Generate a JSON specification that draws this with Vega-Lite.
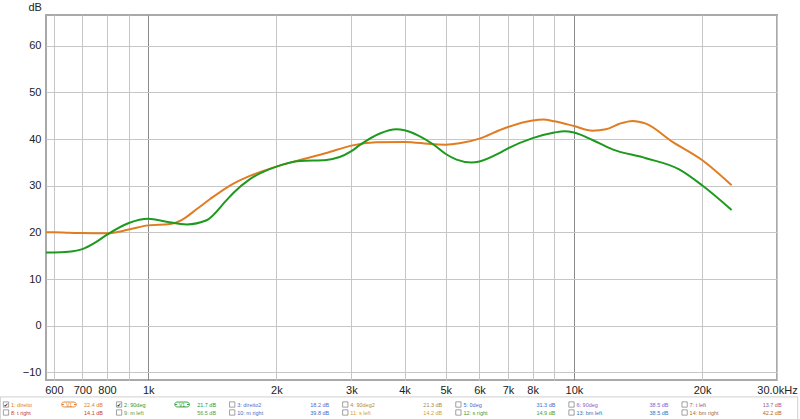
{
  "$schema": "https://vega.github.io/schema/vega-lite/v6.json",
  "width": 731,
  "height": 365,
  "autosize": {"type": "none"},
  "padding": {"left": 46, "top": 15, "right": 23, "bottom": 39},
  "background": "white",
  "config": {
    "view": {"stroke": "#a9a9a9", "strokeWidth": 2},
    "font": "Liberation Sans"
  },
  "datasets": {
    "curves": [
      {"series": "1: direito", "freq": 575, "db": 20.0},
      {"series": "1: direito", "freq": 600, "db": 20.0},
      {"series": "1: direito", "freq": 650, "db": 19.9},
      {"series": "1: direito", "freq": 700, "db": 19.85},
      {"series": "1: direito", "freq": 800, "db": 19.8},
      {"series": "1: direito", "freq": 900, "db": 20.6},
      {"series": "1: direito", "freq": 1000, "db": 21.5},
      {"series": "1: direito", "freq": 1125, "db": 21.8},
      {"series": "1: direito", "freq": 1200, "db": 22.7},
      {"series": "1: direito", "freq": 1300, "db": 25.0},
      {"series": "1: direito", "freq": 1400, "db": 27.2},
      {"series": "1: direito", "freq": 1581, "db": 30.4},
      {"series": "1: direito", "freq": 1733, "db": 32.1},
      {"series": "1: direito", "freq": 2000, "db": 34.1},
      {"series": "1: direito", "freq": 2270, "db": 35.5},
      {"series": "1: direito", "freq": 2620, "db": 37.0},
      {"series": "1: direito", "freq": 3000, "db": 38.6},
      {"series": "1: direito", "freq": 3428, "db": 39.3},
      {"series": "1: direito", "freq": 4000, "db": 39.4},
      {"series": "1: direito", "freq": 4667, "db": 38.9},
      {"series": "1: direito", "freq": 5000, "db": 38.8},
      {"series": "1: direito", "freq": 5386, "db": 39.1},
      {"series": "1: direito", "freq": 6000, "db": 40.1},
      {"series": "1: direito", "freq": 6680, "db": 41.9},
      {"series": "1: direito", "freq": 7000, "db": 42.6},
      {"series": "1: direito", "freq": 8000, "db": 44.0},
      {"series": "1: direito", "freq": 8474, "db": 44.2},
      {"series": "1: direito", "freq": 9000, "db": 43.8},
      {"series": "1: direito", "freq": 10000, "db": 42.8},
      {"series": "1: direito", "freq": 11060, "db": 41.8},
      {"series": "1: direito", "freq": 11890, "db": 42.1},
      {"series": "1: direito", "freq": 12800, "db": 43.3},
      {"series": "1: direito", "freq": 13730, "db": 43.9},
      {"series": "1: direito", "freq": 14760, "db": 43.3},
      {"series": "1: direito", "freq": 17050, "db": 39.4},
      {"series": "1: direito", "freq": 20000, "db": 35.5},
      {"series": "1: direito", "freq": 23470, "db": 30.1},
      {"series": "2: 90deg", "freq": 575, "db": 15.7},
      {"series": "2: 90deg", "freq": 600, "db": 15.7},
      {"series": "2: 90deg", "freq": 650, "db": 15.85},
      {"series": "2: 90deg", "freq": 700, "db": 16.4},
      {"series": "2: 90deg", "freq": 750, "db": 17.8},
      {"series": "2: 90deg", "freq": 800, "db": 19.5},
      {"series": "2: 90deg", "freq": 900, "db": 22.0},
      {"series": "2: 90deg", "freq": 1000, "db": 22.9},
      {"series": "2: 90deg", "freq": 1104, "db": 22.3},
      {"series": "2: 90deg", "freq": 1230, "db": 21.7},
      {"series": "2: 90deg", "freq": 1371, "db": 22.6},
      {"series": "2: 90deg", "freq": 1527, "db": 26.9},
      {"series": "2: 90deg", "freq": 1582, "db": 28.4},
      {"series": "2: 90deg", "freq": 1733, "db": 31.4},
      {"series": "2: 90deg", "freq": 2000, "db": 34.1},
      {"series": "2: 90deg", "freq": 2270, "db": 35.3},
      {"series": "2: 90deg", "freq": 2620, "db": 35.5},
      {"series": "2: 90deg", "freq": 3000, "db": 37.4},
      {"series": "2: 90deg", "freq": 3138, "db": 38.7},
      {"series": "2: 90deg", "freq": 3500, "db": 41.2},
      {"series": "2: 90deg", "freq": 3826, "db": 42.1},
      {"series": "2: 90deg", "freq": 4000, "db": 41.9},
      {"series": "2: 90deg", "freq": 4300, "db": 40.8},
      {"series": "2: 90deg", "freq": 4667, "db": 38.9},
      {"series": "2: 90deg", "freq": 5000, "db": 36.8},
      {"series": "2: 90deg", "freq": 5300, "db": 35.6},
      {"series": "2: 90deg", "freq": 5738, "db": 35.0},
      {"series": "2: 90deg", "freq": 6000, "db": 35.2},
      {"series": "2: 90deg", "freq": 6680, "db": 37.0},
      {"series": "2: 90deg", "freq": 7000, "db": 38.0},
      {"series": "2: 90deg", "freq": 8000, "db": 40.2},
      {"series": "2: 90deg", "freq": 9000, "db": 41.4},
      {"series": "2: 90deg", "freq": 9490, "db": 41.7},
      {"series": "2: 90deg", "freq": 10000, "db": 41.4},
      {"series": "2: 90deg", "freq": 11060, "db": 39.8},
      {"series": "2: 90deg", "freq": 12320, "db": 37.8},
      {"series": "2: 90deg", "freq": 14760, "db": 35.9},
      {"series": "2: 90deg", "freq": 17670, "db": 33.5},
      {"series": "2: 90deg", "freq": 20000, "db": 30.1},
      {"series": "2: 90deg", "freq": 23470, "db": 24.8}
    ],
    "legend": [
      {"item": "1: direito", "val": "22.4 dB", "row": 0, "col": 0, "checked": true},
      {"item": "2: 90deg", "val": "21.7 dB", "row": 0, "col": 1, "checked": true},
      {"item": "3: direito2", "val": "18.2 dB", "row": 0, "col": 2, "checked": false},
      {"item": "4: 90deg2", "val": "21.3 dB", "row": 0, "col": 3, "checked": false},
      {"item": "5: 0deg", "val": "31.3 dB", "row": 0, "col": 4, "checked": false},
      {"item": "6: 90deg", "val": "38.5 dB", "row": 0, "col": 5, "checked": false},
      {"item": "7: t left", "val": "13.7 dB", "row": 0, "col": 6, "checked": false},
      {"item": "8: t right", "val": "14.1 dB", "row": 1, "col": 0, "checked": false},
      {"item": "9: m left", "val": "56.5 dB", "row": 1, "col": 1, "checked": false},
      {"item": "10: m right", "val": "39.8 dB", "row": 1, "col": 2, "checked": false},
      {"item": "11: s left", "val": "14.2 dB", "row": 1, "col": 3, "checked": false},
      {"item": "12: s right", "val": "14.9 dB", "row": 1, "col": 4, "checked": false},
      {"item": "13: bm left", "val": "38.5 dB", "row": 1, "col": 5, "checked": false},
      {"item": "14: bm right", "val": "42.2 dB", "row": 1, "col": 6, "checked": false}
    ]
  },
  "layer": [
    {
      "data": {"name": "curves"},
      "mark": {"type": "line", "interpolate": "monotone", "strokeWidth": 2, "clip": true},
      "encoding": {
        "x": {
          "field": "freq",
          "type": "quantitative",
          "scale": {"type": "log", "domain": [575, 30000], "nice": false},
          "axis": {
            "values": [600, 700, 800, 900, 1000, 2000, 3000, 4000, 5000, 6000, 7000, 8000, 9000, 10000, 20000, 30000],
            "labelExpr": "datum.value == 900 || datum.value == 9000 ? '' : datum.value >= 30000 ? '30.0kHz' : datum.value >= 1000 ? (datum.value / 1000) + 'k' : '' + datum.value",
            "title": null,
            "domain": false,
            "ticks": false,
            "tickSize": 0,
            "labelPadding": 4,
            "labelFontSize": 11,
            "labelColor": "#222",
            "labelFont": "Liberation Sans",
            "labelFlush": false,
            "labelOverlap": false,
            "labelBound": false,
            "grid": true,
            "gridColor": {"condition": {"test": "datum.value == 1000 || datum.value == 10000", "value": "#8a8a8a"}, "value": "#c6c6c6"},
            "gridWidth": 1
          }
        },
        "y": {
          "field": "db",
          "type": "quantitative",
          "scale": {"domain": [-11.65, 66.6], "nice": false, "zero": false},
          "axis": {
            "values": [-10, 0, 10, 20, 30, 40, 50, 60],
            "title": "dB",
            "titleAngle": 0,
            "titleAlign": "left",
            "titleBaseline": "alphabetic",
            "titleX": -18,
            "titleY": -5,
            "titleFontSize": 11,
            "titleFontWeight": "normal",
            "titleColor": "#222",
            "titleFont": "Liberation Sans",
            "domain": false,
            "ticks": false,
            "tickSize": 0,
            "labelPadding": 5,
            "labelFontSize": 11,
            "labelColor": "#222",
            "labelFont": "Liberation Sans",
            "grid": true,
            "gridColor": "#c6c6c6",
            "gridWidth": 1
          }
        },
        "color": {
          "field": "series",
          "type": "nominal",
          "scale": {"domain": ["1: direito", "2: 90deg"], "range": ["#e07d22", "#1d9a1d"]},
          "legend": null
        }
      }
    },
    {
      "data": {"name": "legend"},
      "layer": [
        {
          "data": {"values": [{}]},
          "mark": {"type": "rect", "fillOpacity": 0, "stroke": "#cfcfcf", "strokeWidth": 1},
          "encoding": {
            "x": {"datum": -0.05, "type": "quantitative", "scale": {"domain": [0, 6], "range": [-40, 638.6], "nice": false, "zero": false}, "axis": null},
            "x2": {"datum": 7.0},
            "y": {"datum": -0.95, "type": "quantitative", "scale": {"domain": [0, 1], "range": [389.5, 397.5], "nice": false, "zero": false}, "axis": null},
            "y2": {"datum": 3}
          }
        },
        {
          "mark": {"type": "point", "shape": "square", "size": 28, "filled": true, "fill": "white", "stroke": "#8a8a8a", "strokeWidth": 0.8, "opacity": 1},
          "encoding": {
            "x": {"field": "col", "type": "quantitative", "scale": {"domain": [0, 6], "range": [-40, 638.6], "nice": false, "zero": false}, "axis": null},
            "y": {"field": "row", "type": "quantitative", "scale": {"domain": [0, 1], "range": [389.5, 397.5], "nice": false, "zero": false}, "axis": null}
          }
        },
        {
          "transform": [{"filter": "datum.checked"}],
          "mark": {"type": "text", "text": "✔", "font": "DejaVu Sans", "fontSize": 5.5, "color": "#333", "align": "center", "baseline": "middle"},
          "encoding": {
            "x": {"field": "col", "type": "quantitative", "scale": {"domain": [0, 6], "range": [-40, 638.6], "nice": false, "zero": false}, "axis": null},
            "y": {"field": "row", "type": "quantitative", "scale": {"domain": [0, 1], "range": [389.5, 397.5], "nice": false, "zero": false}, "axis": null}
          }
        },
        {
          "transform": [{"filter": "datum.checked"}],
          "mark": {"type": "point", "shape": "M-0.7,-0.35H0.7A0.35,0.35 0 0 1 0.7,0.35H-0.7A0.35,0.35 0 0 1 -0.7,-0.35Z M-1,0H-0.7 M0.7,0H1", "size": 196, "filled": false, "strokeWidth": 0.9, "xOffset": 63, "opacity": 1},
          "encoding": {
            "x": {"field": "col", "type": "quantitative", "scale": {"domain": [0, 6], "range": [-40, 638.6], "nice": false, "zero": false}, "axis": null},
            "y": {"field": "row", "type": "quantitative", "scale": {"domain": [0, 1], "range": [389.5, 397.5], "nice": false, "zero": false}, "axis": null},
            "color": {"field": "item", "type": "nominal", "scale": {"domain": ["1: direito", "2: 90deg", "3: direito2", "4: 90deg2", "5: 0deg", "6: 90deg", "7: t left", "8: t right", "9: m left", "10: m right", "11: s left", "12: s right", "13: bm left", "14: bm right"], "range": ["#e07d22", "#2a9a2a", "#4a6fd0", "#b08a40", "#3a6fd0", "#8a5ad0", "#9a5a8a", "#c03a3a", "#5a9a3a", "#3a70c8", "#d0a030", "#3aa03a", "#3a70b8", "#a86a30"]}, "legend": null}
          }
        },
        {
          "transform": [{"filter": "datum.checked"}],
          "mark": {"type": "text", "text": "V1", "fontSize": 5, "align": "center", "baseline": "middle", "dx": 63},
          "encoding": {
            "x": {"field": "col", "type": "quantitative", "scale": {"domain": [0, 6], "range": [-40, 638.6], "nice": false, "zero": false}, "axis": null},
            "y": {"field": "row", "type": "quantitative", "scale": {"domain": [0, 1], "range": [389.5, 397.5], "nice": false, "zero": false}, "axis": null},
            "color": {"field": "item", "type": "nominal", "scale": {"domain": ["1: direito", "2: 90deg", "3: direito2", "4: 90deg2", "5: 0deg", "6: 90deg", "7: t left", "8: t right", "9: m left", "10: m right", "11: s left", "12: s right", "13: bm left", "14: bm right"], "range": ["#e07d22", "#2a9a2a", "#4a6fd0", "#b08a40", "#3a6fd0", "#8a5ad0", "#9a5a8a", "#c03a3a", "#5a9a3a", "#3a70c8", "#d0a030", "#3aa03a", "#3a70b8", "#a86a30"]}, "legend": null}
          }
        },
        {
          "mark": {"type": "text", "fontSize": 5.5, "align": "left", "baseline": "middle", "dx": 5},
          "encoding": {
            "x": {"field": "col", "type": "quantitative", "scale": {"domain": [0, 6], "range": [-40, 638.6], "nice": false, "zero": false}, "axis": null},
            "y": {"field": "row", "type": "quantitative", "scale": {"domain": [0, 1], "range": [389.5, 397.5], "nice": false, "zero": false}, "axis": null},
            "text": {"field": "item"},
            "color": {"field": "item", "type": "nominal", "scale": {"domain": ["1: direito", "2: 90deg", "3: direito2", "4: 90deg2", "5: 0deg", "6: 90deg", "7: t left", "8: t right", "9: m left", "10: m right", "11: s left", "12: s right", "13: bm left", "14: bm right"], "range": ["#e07d22", "#2a9a2a", "#4a6fd0", "#b08a40", "#3a6fd0", "#8a5ad0", "#9a5a8a", "#c03a3a", "#5a9a3a", "#3a70c8", "#d0a030", "#3aa03a", "#3a70b8", "#a86a30"]}, "legend": null}
          }
        },
        {
          "mark": {"type": "text", "fontSize": 5.5, "align": "right", "baseline": "middle", "dx": 97},
          "encoding": {
            "x": {"field": "col", "type": "quantitative", "scale": {"domain": [0, 6], "range": [-40, 638.6], "nice": false, "zero": false}, "axis": null},
            "y": {"field": "row", "type": "quantitative", "scale": {"domain": [0, 1], "range": [389.5, 397.5], "nice": false, "zero": false}, "axis": null},
            "text": {"field": "val"},
            "color": {"field": "item", "type": "nominal", "scale": {"domain": ["1: direito", "2: 90deg", "3: direito2", "4: 90deg2", "5: 0deg", "6: 90deg", "7: t left", "8: t right", "9: m left", "10: m right", "11: s left", "12: s right", "13: bm left", "14: bm right"], "range": ["#e07d22", "#2a9a2a", "#4a6fd0", "#b08a40", "#3a6fd0", "#8a5ad0", "#9a5a8a", "#c03a3a", "#5a9a3a", "#3a70c8", "#d0a030", "#3aa03a", "#3a70b8", "#a86a30"]}, "legend": null}
          }
        }
      ]
    }
  ],
  "resolve": {"scale": {"x": "independent", "y": "independent", "color": "independent"}}
}
